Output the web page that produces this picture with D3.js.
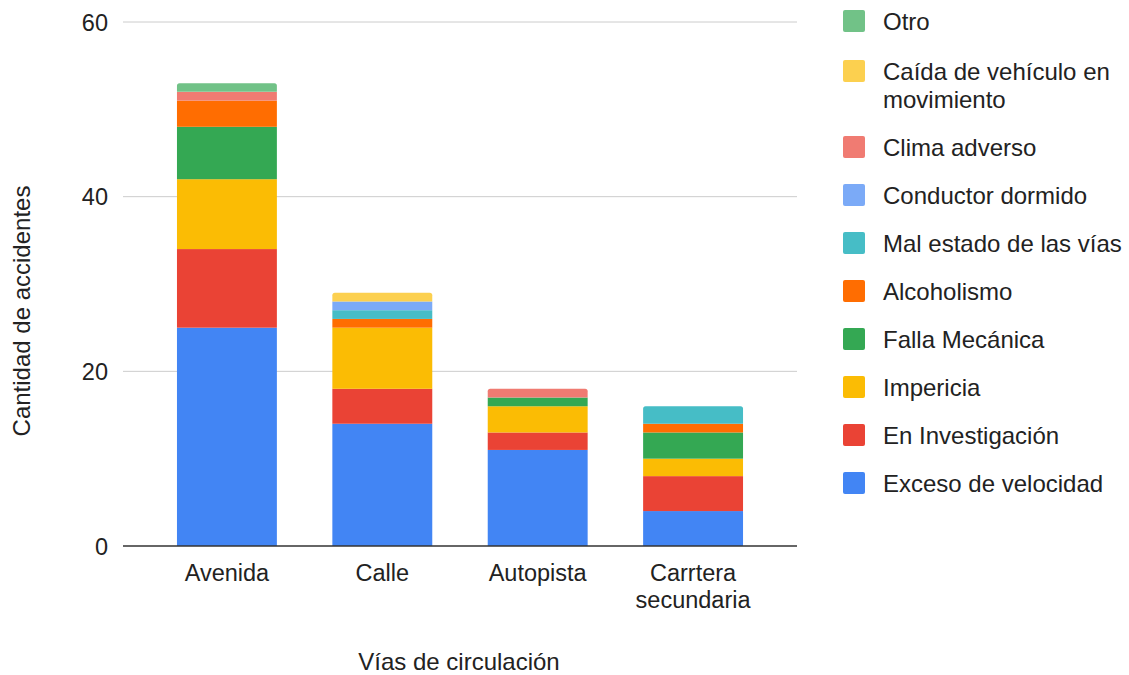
<!DOCTYPE html>
<html><head><meta charset="utf-8">
<script src="https://cdn.jsdelivr.net/npm/d3@7"></script>
<style>body{margin:0;background:#fff}svg{font-family:"Liberation Sans",Arial,sans-serif}</style>
</head><body><svg id="c" width="1129" height="675"></svg>
<script>
const categories = ["Avenida", "Calle", "Autopista", "Carrtera secundaria"];
const seriesNames = ["Exceso de velocidad","En Investigación","Impericia","Falla Mecánica","Alcoholismo","Mal estado de las vías","Conductor dormido","Clima adverso","Caída de vehículo en movimiento","Otro"];
const seriesColors = ["#4285F4","#EA4335","#FBBC04","#34A853","#FF6D01","#46BDC6","#7BAAF7","#F07B72","#FCD04F","#71C287"];
const excesoVelocidad = [25, 14, 11, 4];
const enInvestigacion = [9, 4, 2, 4];
const impericia = [8, 7, 3, 2];
const fallaMecanica = [6, 0, 1, 3];
const alcoholismo = [3, 1, 0, 1];
const malEstado = [0, 1, 0, 2];
const conductorDormido = [0, 1, 0, 0];
const climaAdverso = [1, 0, 1, 0];
const caidaVehiculo = [0, 1, 0, 0];
const otro = [1, 0, 0, 0];
const yTicks = [0, 20, 40, 60];

const values = [excesoVelocidad, enInvestigacion, impericia, fallaMecanica, alcoholismo, malEstado, conductorDormido, climaAdverso, caidaVehiculo, otro];
const rows = categories.map((c, i) => {
  const r = {cat: c};
  seriesNames.forEach((s, j) => r[s] = values[j][i]);
  return r;
});
const stack = d3.stack().keys(seriesNames)(rows);

const svg = d3.select("#c");
const x0 = 123, x1 = 797;
const x = d3.scaleBand().domain(categories).range([149, 771]).paddingInner(0.357).paddingOuter(0.18);
const y = d3.scaleLinear().domain([0, 60]).range([546, 22]);
const FS = 23.5;

// grid
svg.append("g").selectAll("line").data(yTicks.filter(t => t > 0)).join("line")
  .attr("x1", x0).attr("x2", x1).attr("y1", d => y(d)).attr("y2", d => y(d))
  .attr("stroke", "#cccccc").attr("stroke-width", 1);

svg.append("g").selectAll("text").data(yTicks).join("text")
  .attr("x", 108).attr("y", d => y(d) + 8.5).attr("text-anchor", "end")
  .attr("font-size", FS).attr("fill", "#222").text(d => d);

// bars
const topIndex = rows.map((r) => {
  let t = -1; seriesNames.forEach((s, j) => { if (r[s] > 0) t = j; }); return t;
});
const g = svg.append("g");
stack.forEach((layer, j) => {
  layer.forEach((d, i) => {
    if (d[1] - d[0] <= 0) return;
    const bx = x(categories[i]), bw = x.bandwidth();
    const yt = y(d[1]), yb = y(d[0]);
    if (topIndex[i] === j) {
      const r = 2.5;
      g.append("path").attr("fill", seriesColors[j])
        .attr("d", `M${bx},${yb} V${yt + r} Q${bx},${yt} ${bx + r},${yt} H${bx + bw - r} Q${bx + bw},${yt} ${bx + bw},${yt + r} V${yb} Z`);
    } else {
      g.append("rect").attr("x", bx).attr("y", yt).attr("width", bw).attr("height", yb - yt).attr("fill", seriesColors[j]);
    }
  });
});

// baseline
svg.append("line").attr("x1", x0).attr("x2", x1).attr("y1", y(0)).attr("y2", y(0)).attr("stroke", "#333").attr("stroke-width", 1.3);

// category labels
categories.forEach(c => {
  const cx = x(c) + x.bandwidth() / 2;
  const words = c === "Carrtera secundaria" ? ["Carrtera", "secundaria"] : [c];
  words.forEach((w, k) => {
    svg.append("text").attr("x", cx).attr("y", 581 + k * 27).attr("text-anchor", "middle")
      .attr("font-size", FS).attr("fill", "#222").text(w);
  });
});

// axis titles
svg.append("text").attr("x", 459).attr("y", 670).attr("text-anchor", "middle").attr("font-size", 24).attr("fill", "#222").text("Vías de circulación");
svg.append("text").attr("transform", "translate(30,311) rotate(-90)").attr("text-anchor", "middle").attr("font-size", 24).attr("fill", "#222").text("Cantidad de accidentes");

// legend
const legendOrder = seriesNames.map((s, j) => j).reverse();
const legendY = [21, 71, 147, 195, 243, 291, 339, 387, 435, 483];
const lg = svg.append("g");
legendOrder.forEach((j, k) => {
  const ly = legendY[k];
  lg.append("rect").attr("x", 843).attr("y", ly - 11).attr("width", 22).attr("height", 22).attr("rx", 2).attr("fill", seriesColors[j]);
  const name = seriesNames[j];
  const lines = name === "Caída de vehículo en movimiento" ? ["Caída de vehículo en", "movimiento"] : [name];
  lines.forEach((t, m) => {
    lg.append("text").attr("x", 883).attr("y", ly + 9 + m * 28).attr("font-size", 24).attr("fill", "#222").text(t);
  });
});
</script></body></html>
